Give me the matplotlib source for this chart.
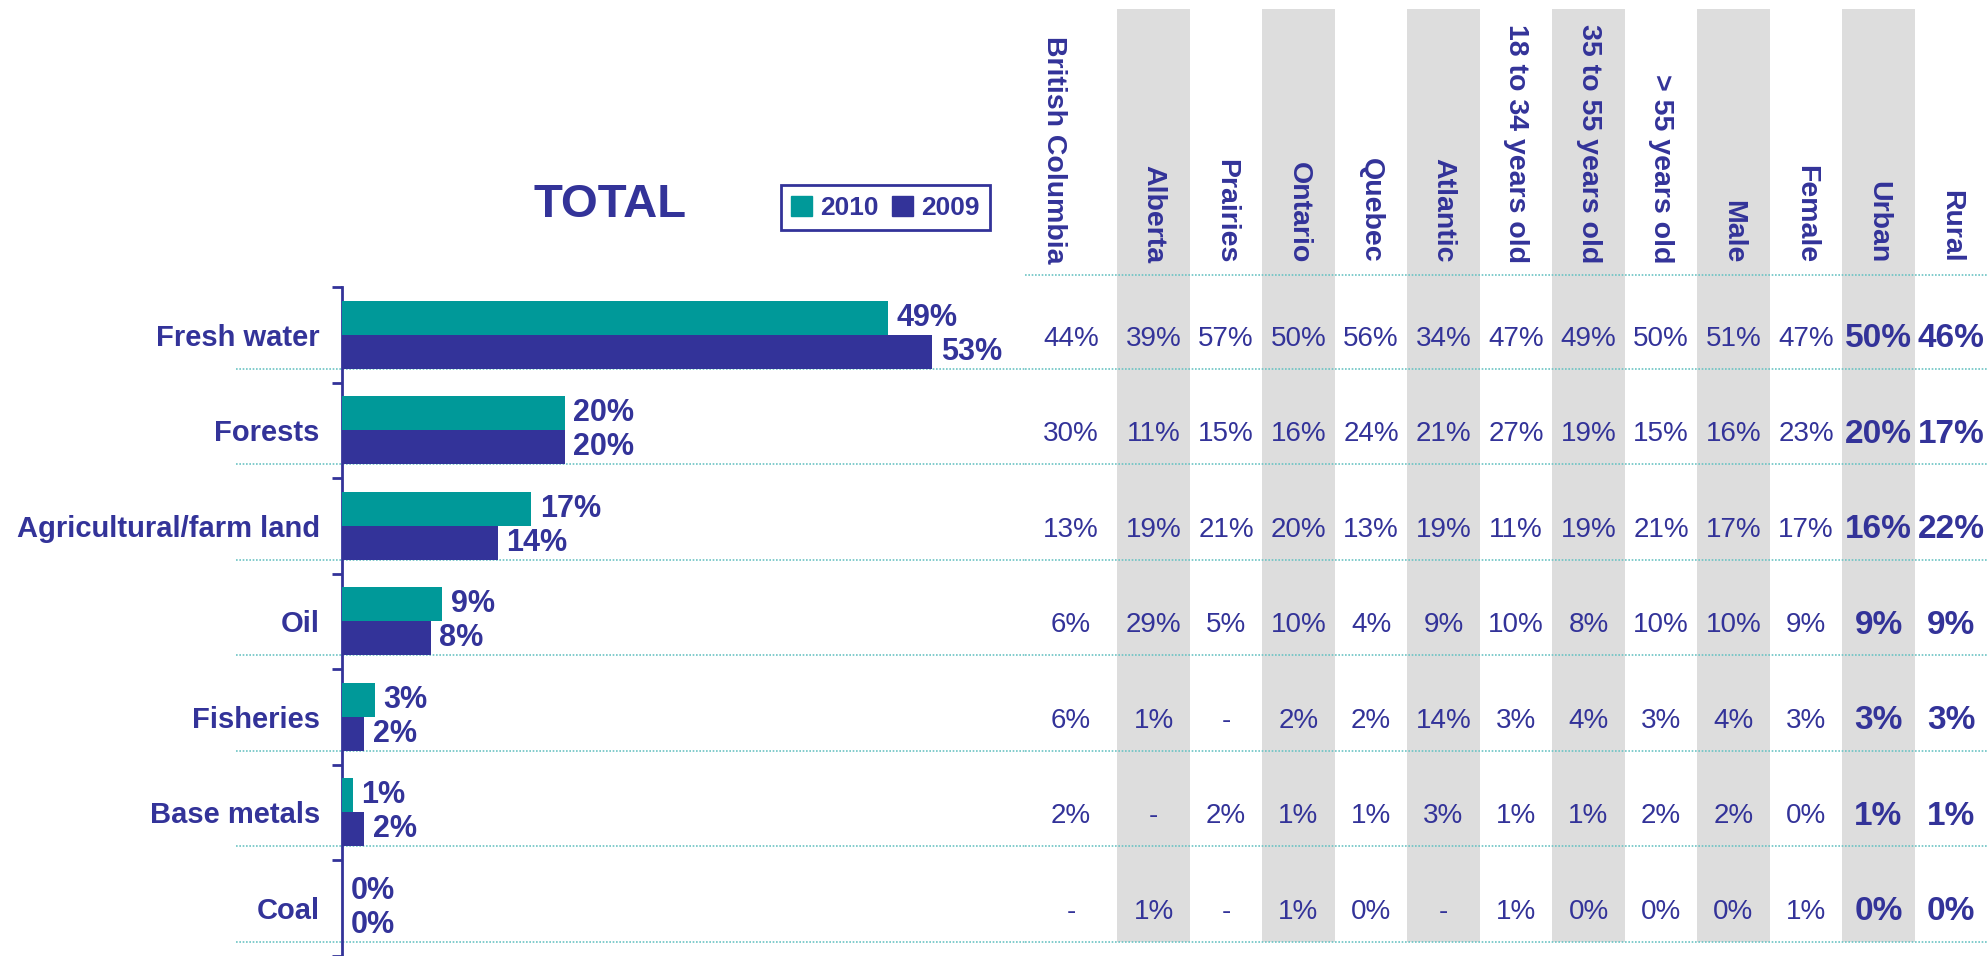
import matplotlib
matplotlib.use("Agg")
import matplotlib.pyplot as plt
from matplotlib.patches import Patch
import numpy as np

plt.rcParams['font.family'] = ['Liberation Sans', 'DejaVu Sans']

# ---- data ----
categories = ['Fresh water', 'Forests', 'Agricultural/farm land', 'Oil',
              'Fisheries', 'Base metals', 'Coal']
total_2010 = [49, 20, 17, 9, 3, 1, 0]
total_2009 = [53, 20, 14, 8, 2, 2, 0]

columns = ['British Columbia', 'Alberta', 'Prairies', 'Ontario', 'Quebec',
           'Atlantic', '18 to 34 years old', '35 to 55 years old',
           '> 55 years old', 'Male', 'Female', 'Urban', 'Rural']
# None = "-" in the source table
fresh_water = [44, 39, 57, 50, 56, 34, 47, 49, 50, 51, 47, 50, 46]
forests = [30, 11, 15, 16, 24, 21, 27, 19, 15, 16, 23, 20, 17]
farm_land = [13, 19, 21, 20, 13, 19, 11, 19, 21, 17, 17, 16, 22]
oil = [6, 29, 5, 10, 4, 9, 10, 8, 10, 10, 9, 9, 9]
fisheries = [6, 1, None, 2, 2, 14, 3, 4, 3, 4, 3, 3, 3]
base_metals = [2, None, 2, 1, 1, 3, 1, 1, 2, 2, 0, 1, 1]
coal = [None, 1, None, 1, 0, None, 1, 0, 0, 0, 1, 0, 0]
table_rows = [fresh_water, forests, farm_land, oil, fisheries, base_metals, coal]
bold_cols = ['Urban', 'Rural']

NAVY = '#333399'
TEAL = '#009999'
GRAY = '#DDDDDD'
DOT = '#6CC3C3'

W, H = 1988, 956
fig = plt.figure(figsize=(W / 100, H / 100), dpi=100)

# layout in pixels (top-origin)
ax_left, ax_right, ax_top, ax_bot = 342, 1025, 287, 955.5
row_px = (ax_bot - ax_top) / len(categories)
px_per_pct = 11.14
bar_h = 0.356

ax = fig.add_axes([ax_left / W, (H - ax_bot) / H, (ax_right - ax_left) / W,
                   (ax_bot - ax_top) / H])
ax.set_facecolor('none')
ax.set_xlim(0, (ax_right - ax_left) / px_per_pct)
ax.set_ylim(len(categories) - 0.5, -0.5)

y = np.arange(len(categories))
b1 = ax.barh(y - bar_h / 2, total_2010, height=bar_h, color=TEAL, zorder=3)
b2 = ax.barh(y + bar_h / 2, total_2009, height=bar_h, color=NAVY, zorder=3)
for bars, vals in ((b1, total_2010), (b2, total_2009)):
    for rect, v in zip(bars, vals):
        ax.annotate(f'{v}%', (v, rect.get_y() + rect.get_height() / 2),
                    xytext=(6, 0), textcoords='offset points', ha='left',
                    va='center', fontsize=22, fontweight='bold', color=NAVY,
                    clip_on=False)

for s in ('top', 'right', 'bottom'):
    ax.spines[s].set_visible(False)
ax.spines['left'].set_color(NAVY)
ax.spines['left'].set_linewidth(2)
ax.set_xticks([])
ax.set_yticks(y)
ax.set_yticklabels(categories, fontsize=21, fontweight='bold', color=NAVY)
ax.tick_params(axis='y', which='major', length=0, pad=16)
ax.set_yticks(np.arange(len(categories) + 1) - 0.5, minor=True)
ax.tick_params(axis='y', which='minor', length=7, width=2, color=NAVY)

seps = y + bar_h
for s in seps:
    ax.axhline(s, xmin=(236 - ax_left) / (ax_right - ax_left), xmax=1,
               color=DOT, lw=1.2, ls=(0, (1, 1)), clip_on=False, zorder=1)

# ---- table on the right ----
tab_top = 9
col_w = 72.5
tax = fig.add_axes([ax_right / W, (H - ax_bot) / H, (W - ax_right) / W,
                    (ax_bot - tab_top) / H])
tax.set_facecolor('none')
x_left = -(1081 - ax_right) / col_w
tax.set_xlim(x_left, x_left + (W - ax_right) / col_w)
y_top = -0.5 - (ax_top - tab_top) / row_px
tax.set_ylim(len(categories) - 0.5, y_top)
tax.axis('off')

ncol = len(columns)
for i in range(1, ncol, 2):
    tax.bar(i, seps[-1] - y_top, bottom=y_top, width=1.0, color=GRAY,
            zorder=0, linewidth=0)

centers = [(x_left + 0.5) / 2] + list(range(1, ncol))
header_line = -0.5 - (ax_top - 275) / row_px
header_base = -0.5 - (ax_top - 263) / row_px
for i, name in enumerate(columns):
    hx = x_left + 0.4 if i == 0 else centers[i]
    tax.text(hx, header_base, name, rotation=270, ha='center', va='bottom',
             fontsize=20.5, fontweight='bold', color=NAVY)

for r, row in enumerate(table_rows):
    for i, v in enumerate(row):
        txt = '-' if v is None else f'{v}%'
        bold = columns[i] in bold_cols
        tax.text(centers[i], r + 0.04, txt, ha='center', va='center',
                 fontsize=24 if bold else 20,
                 fontweight='bold' if bold else 'normal', color=NAVY)

tax.axhline(header_line, color=DOT, lw=1.2, ls=(0, (1, 1)), zorder=1)
for s in seps:
    tax.axhline(s, color=DOT, lw=1.2, ls=(0, (1, 1)), zorder=1)

# ---- title and legend ----
fig.text(610 / W, 1 - 205 / H, 'TOTAL', ha='center', va='center',
         fontsize=34, fontweight='bold', color=NAVY)
leg = fig.legend(handles=[Patch(color=TEAL, label='2010'),
                          Patch(color=NAVY, label='2009')],
                 loc='upper right', bbox_to_anchor=(990 / W, 1 - 185 / H),
                 ncol=2, fancybox=False, edgecolor=NAVY, framealpha=1,
                 prop={'size': 19, 'weight': 'bold'}, labelcolor=NAVY,
                 handlelength=0.8, handleheight=0.8, handletextpad=0.3,
                 columnspacing=0.5, borderpad=0.4, borderaxespad=0)
leg.get_frame().set_linewidth(2)

plt.savefig('out.png', dpi=100)
